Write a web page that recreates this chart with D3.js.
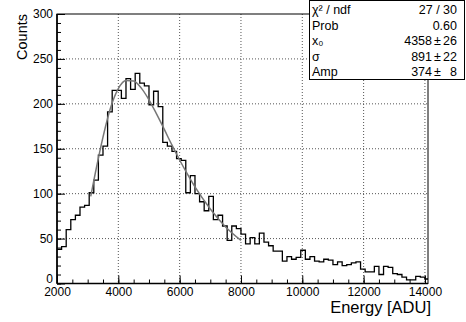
<!DOCTYPE html>
<meta charset="utf-8">
<html>
<head>
<script src="https://d3js.org/d3.v7.min.js"></script>
<style>
  body { margin: 0; background: #fff; }
  svg { display: block; font-family: "Liberation Sans", Arial, sans-serif; }
  .grid line { stroke: #555; stroke-dasharray: 1,2; }
  .axis path { display: none; }
  .axis line { stroke: #000; }
  .axis text { font-size: 12px; fill: #000; }
</style>
</head>
<body>
<svg width="466" height="322"></svg>
<script>
// histogram: 150 ADU bins starting at 2000
const binStart = 2000;
const binWidth = 150;
const counts = [38, 41, 60, 71, 76, 85, 87, 101, 115, 143,
                153, 191, 215, 215, 206, 228, 216, 234, 223, 220,
                199, 214, 197, 157, 153, 147, 139, 137, 101, 120,
                100, 91, 81, 97, 71, 76, 64, 48, 64, 61,
                55, 44, 51, 44, 56, 46, 42, 36, 36, 25,
                30, 27, 29, 37, 27, 30, 25, 24, 27, 26,
                21, 24, 20, 21, 23, 24, 16, 13, 13, 19,
                10, 19, 18, 11, 10, 7, 4, 4, 8, 7, 5];

// fit curve (energy, counts)
const fitE = [3100, 3250, 3500, 3750, 4000, 4250, 4500, 4750, 5000, 5250,
              5500, 5750, 6000, 6250, 6500, 7000, 7500, 8000];
const fitV = [97, 123, 163, 196, 217, 226, 225.5, 217.5, 204.5, 188.5,
              171.5, 154, 137.5, 122, 107.5, 83, 63, 48];

const xTicks = [2000, 4000, 6000, 8000, 10000, 12000, 14000];
const yTicks = [0, 50, 100, 150, 200, 250, 300];

const statLabels = ["χ² / ndf", "Prob", "x₀", "σ", "Amp"];
const statValues = ["27 / 30", "0.60", "4358", "891", "374"];
const statErrors = [null, null, "26", "22", "8"];

const svg = d3.select("svg");
const fL = 57, fR = 428, fT = 14, fB = 283.5;

const x = d3.scaleLinear().domain([2000, 14100]).range([fL, fR]);
const y = d3.scaleLinear().domain([0, 300]).range([fB, fT]);

// grid
svg.append("g").attr("class", "grid")
  .selectAll("line").data(xTicks.slice(1)).join("line")
  .attr("x1", d => x(d)).attr("x2", d => x(d))
  .attr("y1", fT).attr("y2", fB);
svg.append("g").attr("class", "grid")
  .selectAll("line").data(yTicks.slice(1, -1)).join("line")
  .attr("x1", fL).attr("x2", fR)
  .attr("y1", d => y(d)).attr("y2", d => y(d));

// frame
svg.append("rect")
  .attr("x", fL).attr("y", fT)
  .attr("width", fR - fL).attr("height", fB - fT)
  .attr("fill", "none").attr("stroke", "#000").attr("stroke-width", 1);

svg.append("defs").append("clipPath").attr("id", "clip")
  .append("rect").attr("x", fL).attr("y", fT)
  .attr("width", fR - fL).attr("height", fB - fT);

// histogram as a step line
const pts = [];
counts.forEach((c, i) => {
  pts.push([binStart + i * binWidth, c]);
  pts.push([binStart + (i + 1) * binWidth, c]);
});
svg.append("path")
  .datum(pts)
  .attr("clip-path", "url(#clip)")
  .attr("fill", "none")
  .attr("stroke", "#000")
  .attr("stroke-width", 1.3)
  .attr("d", d3.line().x(d => x(d[0])).y(d => y(d[1])));

// fit
svg.append("path")
  .datum(fitE.map((e, i) => [e, fitV[i]]))
  .attr("fill", "none")
  .attr("stroke", "#777")
  .attr("stroke-width", 1.5)
  .attr("d", d3.line().curve(d3.curveMonotoneX).x(d => x(d[0])).y(d => y(d[1])));

// axes (ticks pointing inside)
const xMinor = d3.range(2000, 14001, 500);
svg.append("g").attr("class", "axis")
  .attr("transform", `translate(0,${fB})`)
  .call(d3.axisBottom(x).tickValues(xMinor).tickSize(-4).tickFormat(""));
svg.append("g").attr("class", "axis")
  .attr("transform", `translate(0,${fB})`)
  .call(d3.axisBottom(x).tickValues(xTicks).tickSize(-8).tickPadding(4).tickFormat(d3.format("d")));

const yMinor = d3.range(0, 301, 10);
svg.append("g").attr("class", "axis")
  .attr("transform", `translate(${fL},0)`)
  .call(d3.axisLeft(y).tickValues(yMinor).tickSize(-4).tickFormat(""));
const yAx = svg.append("g").attr("class", "axis")
  .attr("transform", `translate(${fL},0)`)
  .call(d3.axisLeft(y).tickValues(yTicks).tickSize(-8).tickPadding(4).tickFormat(d3.format("d")));
// the "0" sits just above the "2000" label
yAx.selectAll(".tick text").filter(d => d === 0).attr("dy", "-0.05em");

// thicker axis lines
svg.append("line").attr("x1", fL).attr("x2", fR).attr("y1", fB).attr("y2", fB)
  .attr("stroke", "#000").attr("stroke-width", 1.6);
svg.append("line").attr("x1", fL).attr("x2", fL).attr("y1", fT).attr("y2", fB)
  .attr("stroke", "#000").attr("stroke-width", 1.6);

// axis titles
svg.append("text")
  .attr("x", 431).attr("y", 313)
  .attr("text-anchor", "end")
  .attr("font-size", 16.5)
  .text("Energy [ADU]");
svg.append("text")
  .attr("transform", `translate(27,${fT}) rotate(-90)`)
  .attr("text-anchor", "end")
  .attr("font-size", 14.5)
  .text("Counts");

// stat box
const box = svg.append("g");
box.append("rect")
  .attr("x", 309.5).attr("y", 0.5).attr("width", 155).attr("height", 79)
  .attr("fill", "#fff").attr("stroke", "#000");
statLabels.forEach((lab, i) => {
  const yy = 14 + i * 15.5;
  box.append("text").attr("x", 312).attr("y", yy).attr("font-size", 12.5).text(lab);
  if (statErrors[i] === null) {
    box.append("text").attr("x", 457).attr("y", yy).attr("font-size", 12.5)
      .attr("text-anchor", "end").text(statValues[i]);
  } else {
    box.append("text").attr("x", 432).attr("y", yy).attr("font-size", 12.5)
      .attr("text-anchor", "end").text(statValues[i]);
    box.append("text").attr("x", 434).attr("y", yy).attr("font-size", 12.5).text("±");
    box.append("text").attr("x", 457).attr("y", yy).attr("font-size", 12.5)
      .attr("text-anchor", "end").text(statErrors[i]);
  }
});
</script>
</body>
</html>
